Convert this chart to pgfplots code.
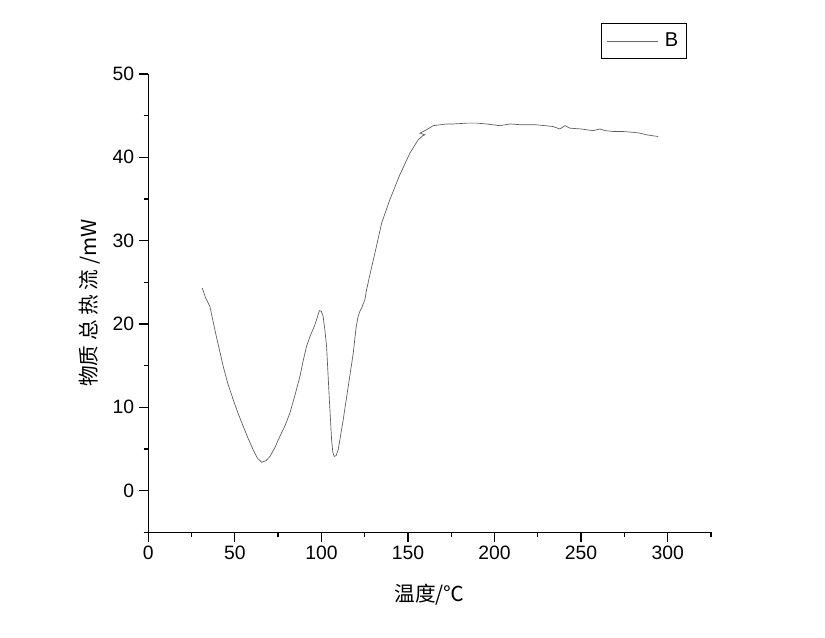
\documentclass[border=0pt]{standalone}
\usepackage{pgfplots}
\pgfplotsset{compat=1.18}
\usepackage{fontspec}
\setmainfont{Liberation Sans}
\newfontfamily\cjk{Noto Sans CJK SC}
\begin{document}
\begin{tikzpicture}
\path[use as bounding box] (-111.2pt,-79.3pt) rectangle ++(618.75pt,478.5pt);
\begin{axis}[
  scale only axis,
  width=422pt, height=343.7pt,
  xmin=0, xmax=325, ymin=-5, ymax=50,
  axis lines*=left,
  axis line style={line width=1pt,-},
  tick align=outside,
  major tick length=7pt, minor tick length=3.5pt,
  every tick/.style={line width=1pt,black},
  xtick={0,50,100,150,200,250,300},
  ytick={0,10,20,30,40,50},
  minor x tick num=1, minor y tick num=1,
  extra x ticks={325}, extra x tick style={tick label style={opacity=0}, major tick length=3.5pt},
  extra y ticks={-5}, extra y tick style={tick label style={opacity=0}, major tick length=3.5pt},
  /pgf/number format/assume math mode=true,
  ticklabel style={font=\fontsize{14.5}{16}\selectfont},
  xlabel={\cjk 温度/℃},
  ylabel={\cjk 物质 总 热 流 /mW},
  label style={font=\fontsize{15.5}{17}\selectfont},
  xlabel style={yshift=-1pt},
  ylabel style={yshift=-8pt},
  legend style={at={(0.957,1.111)}, anchor=north east, draw=black, line width=0.8pt,
    font=\fontsize{15}{17}\selectfont, inner xsep=4pt, inner ysep=5pt},
  legend cell align=left,
  legend image code/.code={\draw[black!60, line width=0.5pt] (0pt,0pt) -- (38pt,0pt);},
]
\addplot[black!65, line width=0.5pt] coordinates {
(31.2,24.3) (33.0,23.2) (35.6,22.1) (39.0,18.8) (43.3,14.9) (46.0,12.8) (49.1,10.9) (52.0,9.2) (54.9,7.7)
(57.8,6.2) (60.6,4.9) (63.0,3.9) (65.5,3.4) (68.0,3.6) (70.3,4.1) (73.0,5.1) (76.0,6.5)
(79.0,7.8) (81.8,9.3) (84.8,11.5) (87.6,13.7) (89.5,15.6) (91.4,17.3) (93.6,18.6) (95.9,19.7)
(97.5,20.7) (98.8,21.6) (100.0,21.5) (101.0,20.9) (102.0,19.3) (103.0,17.3) (104.5,11.3)
(105.9,6.1) (106.6,4.6) (107.4,4.1) (108.5,4.2) (109.7,4.9) (111.0,6.5) (112.6,8.5)
(115.5,12.5) (118.4,16.5) (120.0,19.5) (121.2,20.9) (122.2,21.5) (123.2,21.9) (125.1,22.9)
(126.1,24.1) (128.0,25.9) (130.9,28.5) (134.8,32.1) (139.5,34.9) (145.3,37.9) (151.1,40.5)
(155.9,42.1) (158.5,42.6) (159.8,42.7) (156.9,42.9) (160.7,43.3) (164.6,43.8) (172.3,44.0)
(176.2,44.0) (183.8,44.1) (190.0,44.1) (195.4,44.0) (203.1,43.8) (209.0,44.0) (216.0,43.9)
(224.3,43.9) (233.8,43.7) (237.7,43.4) (240.6,43.8) (243.5,43.5) (250.0,43.4) (256.9,43.2)
(260.9,43.4) (264.0,43.2) (268.6,43.1) (274.0,43.1) (280.0,43.0) (284.0,42.9) (287.8,42.7)
(291.0,42.6) (294.5,42.5)
};
\addlegendentry{\hspace{3pt}B}
\end{axis}
\end{tikzpicture}
\end{document}
